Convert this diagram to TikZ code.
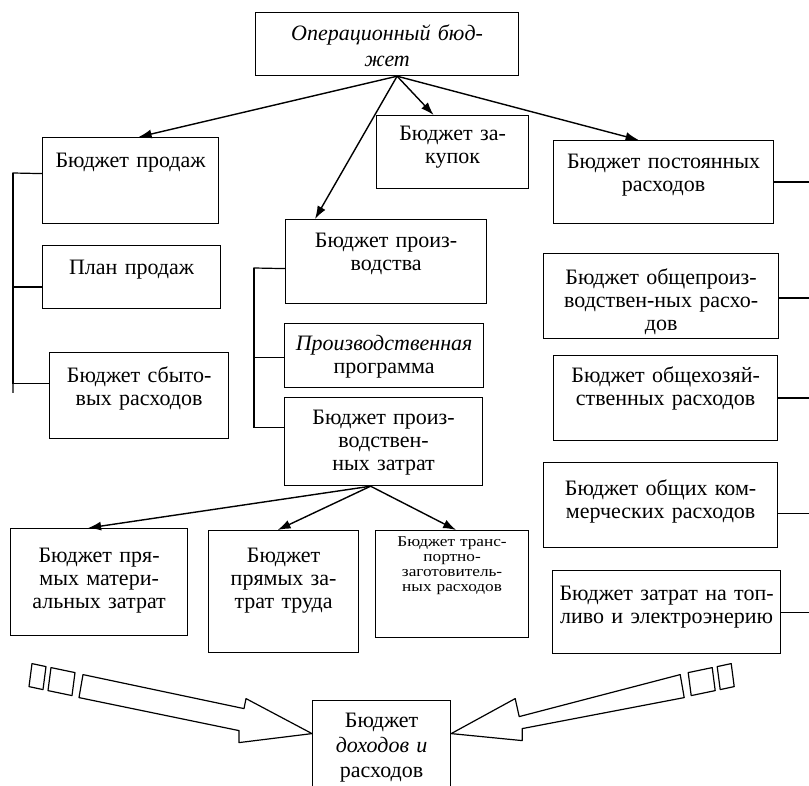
\documentclass[tikz,border=0pt]{standalone}
\usepackage{fontspec}
\setmainfont{Liberation Serif}
\newfontfamily\smallserif[FakeStretch=1.15]{Liberation Serif}
\usetikzlibrary{arrows.meta, positioning, calc}

\tikzset{
  blk/.style n args={3}{draw, line width=1.2pt, anchor=north west, inner sep=0pt,
    align=center, text width=#1pt, text height=#2pt, text depth=#3pt,
    font=\fontsize{22}{23}\selectfont},
  feed/.style={-{Latex[length=13pt,width=9pt]}, line width=1.4pt},
  tie/.style={line width=1.2pt},
  hollow/.style={draw, line width=1.2pt, line join=round},
}

\begin{document}
\begin{tikzpicture}[x=1pt, y=-1pt]
    \useasboundingbox (0,0) rectangle (809,786);

    % Top block
    \node[blk={263}{28}{35}, font=\fontsize{22}{26}\selectfont\itshape] (opb) at (255,12) {Операционный бюд-\\жет};

    % Left column
    \node[blk={176}{30}{56}] (sales) at (42,137) {Бюджет продаж};
    \node[blk={178}{29}{34}] (plan) at (42,245) {План продаж};
    \node[blk={179}{30}{56}] (sbyt) at (49,352) {Бюджет сбыто-\\вых расходов};

    % Middle column
    \node[blk={152}{25}{48}] (zak) at (376,115) {Бюджет за-\\купок};
    \node[blk={201}{28}{56}] (prod) at (285,219) {Бюджет произ-\\водства};
    \node[blk={199}{27}{37}] (prog) at (284,323) {\textit{Производственная}\\программа};
    \node[blk={198}{27}{61}] (cost) at (284,397) {Бюджет произ-\\водствен-\\ных затрат};

    % Cost items
    \node[blk={177}{34}{73}] (mat) at (10,528) {Бюджет пря-\\мых матери-\\альных затрат};
    \node[blk={150}{32}{90}] (lab) at (208,530) {Бюджет\\прямых за-\\трат труда};
    \node[blk={153}{16}{91}, font=\smallserif\fontsize{15}{15}\selectfont] (trans) at (375,530) {Бюджет транс-\\портно-\\заготовитель-\\ных расходов};

    % Right column
    \node[blk={220}{28}{55}] (post) at (553,140) {Бюджет постоянных\\расходов};
    \node[blk={235}{31}{54}] (ovh) at (543,253) {Бюджет общепроиз-\\водствен-ных расхо-\\дов};
    \node[blk={224}{27}{58}] (adm) at (553,355) {Бюджет общехозяй-\\ственных расходов};
    \node[blk={234}{33}{52}] (com) at (543,462) {Бюджет общих ком-\\мерческих расходов};
    \node[blk={228}{30}{53}] (fuel) at (552,570) {Бюджет затрат на топ-\\ливо и электроэнерию};

    % Bottom block
    \node[blk={138}{27}{63}, font=\fontsize{22}{25}\selectfont] (inc) at (312,700) {Бюджет\\\textit{доходов и}\\расходов};

    % Arrows from the top block
    \coordinate (hub) at ([xshift=10pt]opb.south);
    \draw[feed] (hub) -- ([xshift=8pt]sales.north);
    \draw[feed] (hub) -- ([xshift=30pt]prod.north west);
    \draw[feed] (hub) -- ([xshift=-19pt]zak.north);
    \draw[feed] (hub) -- ([xshift=-25pt]post.north);

    % Arrows from the cost block
    \coordinate (hub2) at ([xshift=-13pt]cost.south);
    \draw[feed] (hub2) -- ([xshift=-11pt]mat.north);
    \draw[feed] (hub2) -- ([xshift=-6pt]lab.north);
    \draw[feed] (hub2) -- ([xshift=4pt]trans.north);

    % Left bracket
    \coordinate (lbus) at (13,173);
    \draw[tie] ([yshift=7pt]sales.west) -- (lbus) -- ++(0,220);
    \draw[tie] ([yshift=-10pt]plan.west) -| (lbus);
    \draw[tie] ([yshift=12pt]sbyt.west) -| (lbus);

    % Middle bracket
    \coordinate (mbus) at (254,268);
    \draw[tie] ([yshift=-7pt]prod.west) -- (mbus) -- ++(0,159);
    \draw[tie] ([yshift=-2pt]prog.west) -| (mbus);
    \draw[tie] ([yshift=14pt]cost.west) -| (mbus);

    % Right ties
    \coordinate (redge) at (809,0);
    \draw[tie] (post.east) -- (post.east -| redge);
    \draw[tie] ([yshift=-2pt]ovh.east) -- ([yshift=-2pt]ovh.east -| redge);
    \draw[tie] (adm.east) -- (adm.east -| redge);
    \draw[tie] ([yshift=-8pt]com.east) -- ([yshift=-8pt]com.east -| redge);
    \draw[tie] (fuel.east) -- (fuel.east -| redge);

    % Hollow arrows into the bottom block
    \coordinate (ltip) at ([yshift=12pt]inc.west);
    \coordinate (rtip) at ([yshift=12pt]inc.east);
    \draw[hollow] (ltip) -- +(-66,-35) -- +(-68,-25) -- +(-229,-59) -- +(-233,-36) -- +(-73,-3) -- +(-73,9) -- cycle;
    \draw[hollow] (ltip) ++(-280,-70) -- +(14,3) -- +(11,26) -- +(-3,23) -- cycle;
    \draw[hollow] (ltip) ++(-261,-66) -- +(24,5) -- +(21,28) -- +(-3,23) -- cycle;
    \draw[hollow] (rtip) -- +(64,-35) -- +(68,-17) -- +(229,-59) -- +(233,-36) -- +(71,-5) -- +(71,7) -- cycle;
    \draw[hollow] (rtip) ++(280,-70) -- +(-14,3) -- +(-11,26) -- +(3,23) -- cycle;
    \draw[hollow] (rtip) ++(261,-66) -- +(-24,5) -- +(-21,28) -- +(3,23) -- cycle;
\end{tikzpicture}
\end{document}
